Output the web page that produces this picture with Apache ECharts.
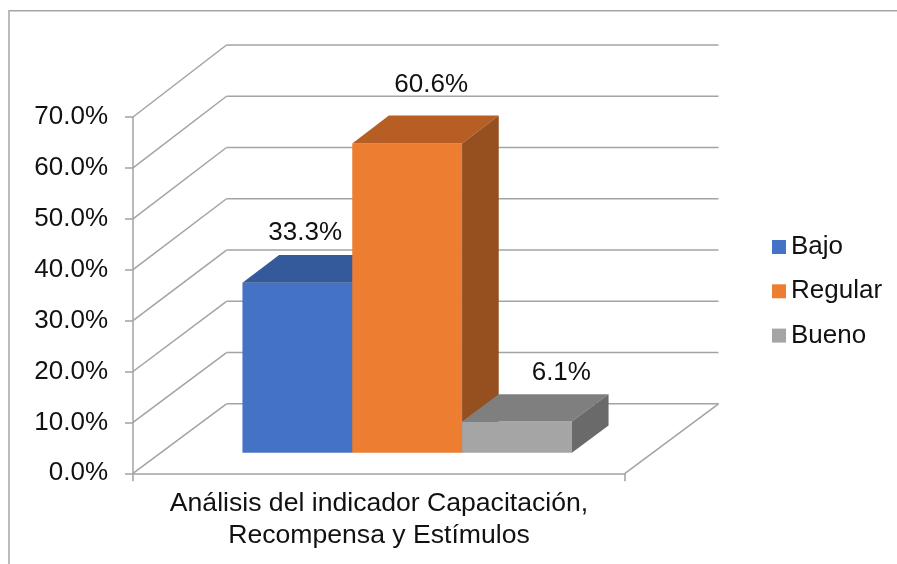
<!DOCTYPE html>
<html>
<head>
<meta charset="utf-8">
<title>Capacitación, Recompensa y Estímulos</title>
<script src="https://cdn.jsdelivr.net/npm/echarts@6/dist/echarts.min.js"></script>
<style>
  html, body { margin: 0; padding: 0; background: #ffffff; }
  #chart { width: 897px; height: 564px; }
</style>
</head>
<body>
<div id="chart"></div>
<script>
// ---- data ----
const CATEGORIES = ['Análisis del indicador Capacitación,\nRecompensa y Estímulos'];
const SERIES_NAMES = ['Bajo', 'Regular', 'Bueno'];
const VALUES = [33.3, 60.6, 6.1];
const Y_TICKS = [0, 10, 20, 30, 40, 50, 60, 70];

// ---- look ----
const FONT = '"Liberation Sans", Arial, sans-serif';
const TEXT_COLOR = '#111111';
const WALL_COLOR = '#a3a3a3';
const FACE_COLORS = [
  { front: '#4472c4', top: '#345a9b', side: '#2c4d86' },
  { front: '#ed7d31', top: '#b65e23', side: '#964f1f' },
  { front: '#a5a5a5', top: '#7f7f7f', side: '#6a6a6a' }
];
// oblique projection of the depth axis (pixels for full depth)
const DEPTH = { dx: 93.5, dy: -69.5 };
// vertical scale grows slightly towards the back wall
const BACK_K = 1.007;
// bar layout inside the category band (fractions of band width / depth)
const GROUP_START = 0.166;
const BAR_W = 0.2232;
const BAR_T0 = 0.297;
const BAR_T1 = 0.689;
// value label offset from the centre of each bar's top face
const LABEL_OFFSETS = [[-10.5, -36], [5.7, -44.4], [26, -34.8]];

function frame(api) {
  const base = api.coord([0, 0]);
  const w = api.size([1, 0])[0];
  return { left: base[0] - w / 2, y0: base[1], w: w };
}

function project(f, xf, h, t) {
  return [
    f.left + xf * f.w + t * DEPTH.dx,
    f.y0 + t * DEPTH.dy - h * (1 + (BACK_K - 1) * t)
  ];
}

// back wall gridlines, side wall diagonals and the floor edge
function renderWalls(params, api) {
  const f = frame(api);
  const v = api.value(1);
  const h = f.y0 - api.coord([0, v])[1];
  const front = project(f, 0, h, 0);
  const back = project(f, 0, h, 1);
  const backRight = project(f, 1, h, 1);
  const lineStyle = { stroke: WALL_COLOR, lineWidth: 1.5 };
  const children = [
    { type: 'line', shape: { x1: front[0], y1: front[1], x2: back[0], y2: back[1] }, style: lineStyle },
    { type: 'line', shape: { x1: back[0], y1: back[1], x2: backRight[0], y2: backRight[1] }, style: lineStyle }
  ];
  if (v === Y_TICKS[0]) {
    const fr = project(f, 1, 0, 0);
    const br = project(f, 1, 0, 1);
    children.push({ type: 'line', shape: { x1: fr[0], y1: fr[1], x2: br[0], y2: br[1] }, style: lineStyle });
  }
  return { type: 'group', children: children };
}

// one 3D box per series: front face, top face, right face and value label
function boxRenderer(idx) {
  return function (params, api) {
    const f = frame(api);
    const v = api.value(1);
    const h = f.y0 - api.coord([0, v])[1];
    const x0 = GROUP_START + idx * BAR_W;
    const x1 = x0 + BAR_W;
    const c = FACE_COLORS[idx];
    const fbl = project(f, x0, 0, BAR_T0), fbr = project(f, x1, 0, BAR_T0);
    const ftl = project(f, x0, h, BAR_T0), ftr = project(f, x1, h, BAR_T0);
    const btl = project(f, x0, h, BAR_T1), btr = project(f, x1, h, BAR_T1);
    const bbr = project(f, x1, 0, BAR_T1);
    const topC = project(f, (x0 + x1) / 2, h, (BAR_T0 + BAR_T1) / 2);
    const off = LABEL_OFFSETS[idx];
    return {
      type: 'group',
      children: [
        { type: 'polygon', shape: { points: [fbl, fbr, ftr, ftl] }, style: { fill: c.front } },
        { type: 'polygon', shape: { points: [ftl, ftr, btr, btl] }, style: { fill: c.top } },
        { type: 'polygon', shape: { points: [fbr, bbr, btr, ftr] }, style: { fill: c.side } },
        {
          type: 'text',
          x: topC[0] + off[0],
          y: topC[1] + off[1],
          style: {
            text: v.toFixed(1) + '%',
            fill: TEXT_COLOR,
            font: '26px ' + FONT,
            align: 'center',
            verticalAlign: 'middle'
          }
        }
      ]
    };
  };
}

const series = [{
  type: 'custom',
  name: 'walls',
  coordinateSystem: 'cartesian2d',
  renderItem: renderWalls,
  data: Y_TICKS.map(v => [0, v]),
  silent: true,
  z: 1
}];
SERIES_NAMES.forEach((name, i) => {
  series.push({
    type: 'custom',
    name: name,
    coordinateSystem: 'cartesian2d',
    renderItem: boxRenderer(i),
    itemStyle: { color: FACE_COLORS[i].front },
    data: [[0, VALUES[i]]],
    z: 2 + i
  });
});

const chart = echarts.init(document.getElementById('chart'), null, { renderer: 'canvas' });
chart.setOption({
  animation: false,
  backgroundColor: '#ffffff',
  textStyle: { fontFamily: FONT },
  graphic: [{
    type: 'polyline',
    shape: { points: [[9, 564], [9, 10.7], [897, 10.7]] },
    style: { stroke: '#a6a6a6', lineWidth: 1.5, fill: null },
    silent: true
  }],
  grid: { left: 133, right: 272, top: 117, bottom: 90.7, containLabel: false },
  xAxis: {
    type: 'category',
    data: CATEGORIES,
    axisLine: { show: true, lineStyle: { color: WALL_COLOR, width: 1.5 } },
    axisTick: { show: true, length: 8, interval: 0, lineStyle: { color: WALL_COLOR, width: 1.5 } },
    axisLabel: { interval: 0, fontSize: 26.6, lineHeight: 32, margin: 14, color: TEXT_COLOR, fontFamily: FONT },
    splitLine: { show: false }
  },
  yAxis: {
    type: 'value',
    min: 0,
    max: 70,
    interval: 10,
    axisLine: { show: true, lineStyle: { color: WALL_COLOR, width: 1.5 } },
    axisTick: { show: true, length: 8, lineStyle: { color: WALL_COLOR, width: 1.5 } },
    axisLabel: { fontSize: 26, margin: 25, color: TEXT_COLOR, fontFamily: FONT, formatter: v => v.toFixed(1) + '%' },
    splitLine: { show: false }
  },
  legend: {
    data: SERIES_NAMES,
    orient: 'vertical',
    left: 772,
    top: 234,
    padding: 0,
    itemGap: 18.3,
    itemWidth: 14,
    itemHeight: 14,
    icon: 'rect',
    textStyle: { fontSize: 26, color: TEXT_COLOR, fontFamily: FONT }
  },
  series: series
});
</script>
</body>
</html>
